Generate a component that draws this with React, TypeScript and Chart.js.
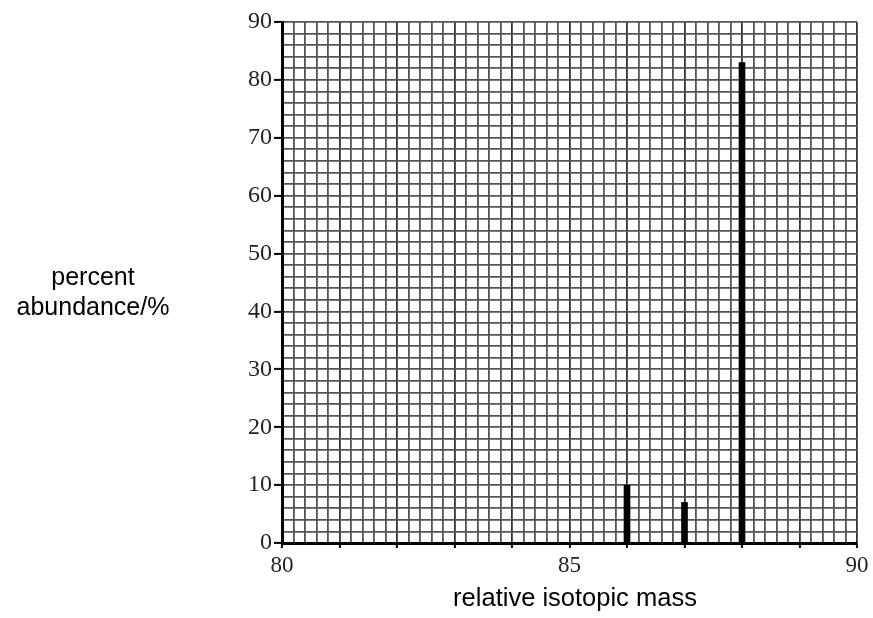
import React, { useEffect, useRef } from "react";
import { Chart, registerables } from "chart.js";

Chart.register(...registerables);

const masses: number[] = [86, 87, 88];
const abundances: number[] = [10, 7, 83];
const xLabelValues: number[] = [80, 85, 90];
const yLabelValues: number[] = [0, 10, 20, 30, 40, 50, 60, 70, 80, 90];
const xTitle = "relative isotopic mass";
const yTitleLines: string[] = ["percent", "abundance/%"];

const near = (a: number, b: number) => Math.abs(a - b) < 1e-6;
const isInt = (v: number) => near(v, Math.round(v));

const titlePlugin = {
  id: "axisTitles",
  afterDraw(chart: any) {
    const ctx = chart.ctx;
    ctx.save();
    ctx.fillStyle = "#000";
    ctx.font = "25.5px 'Liberation Sans', Arial, sans-serif";
    ctx.textAlign = "center";
    ctx.textBaseline = "alphabetic";
    ctx.fillText(xTitle, 575, 606);
    ctx.font = "25px 'Liberation Sans', Arial, sans-serif";
    yTitleLines.forEach((line, i) => {
      ctx.fillText(line, 93, 285 + i * 30);
    });
    ctx.restore();
  },
};

export default function App() {
  const canvasRef = useRef<HTMLCanvasElement | null>(null);

  useEffect(() => {
    document.body.style.margin = "0";
    const canvas = canvasRef.current;
    if (!canvas) return;
    const chart = new Chart(canvas, {
      type: "bar",
      data: {
        datasets: [
          {
            data: masses.map((m, i) => ({ x: m, y: abundances[i] })),
            backgroundColor: "#000",
            borderWidth: 0,
            barThickness: 6,
          },
        ],
      },
      options: {
        responsive: false,
        animation: false,
        events: [],
        layout: { padding: { top: 22, right: 16, left: 0, bottom: 0 } },
        plugins: {
          legend: { display: false },
          tooltip: { enabled: false },
        },
        scales: {
          x: {
            type: "linear",
            min: 80,
            max: 90,
            offset: false,
            grid: {
              offset: false,
              color: (c: any) => (isInt(c.tick.value) ? "#333" : "#555"),
              lineWidth: 1.8,
              tickLength: 5,
              tickColor: (c: any) => (isInt(c.tick.value) ? "#000" : "rgba(0,0,0,0)"),
              tickWidth: 2,
            },
            border: { display: true, color: "#000", width: 3 },
            ticks: {
              stepSize: 0.2,
              autoSkip: false,
              maxRotation: 0,
              padding: 4,
              color: "#222",
              font: { family: "'Liberation Serif', 'Times New Roman', serif", size: 23 },
              callback: (v: any) => {
                const n = Number(v);
                const hit = xLabelValues.find((l) => near(l, n));
                return hit !== undefined ? String(hit) : "";
              },
            },
            afterFit: (scale: any) => {
              scale.height = 75;
            },
          },
          y: {
            type: "linear",
            min: 0,
            max: 90,
            grid: {
              color: "#555",
              lineWidth: 1.8,
              tickLength: 8,
              tickColor: (c: any) =>
                yLabelValues.some((l) => near(l, c.tick.value)) ? "#000" : "rgba(0,0,0,0)",
              tickWidth: 2,
            },
            border: { display: true, color: "#000", width: 3 },
            ticks: {
              stepSize: 2,
              autoSkip: false,
              padding: 2,
              color: "#222",
              font: { family: "'Liberation Serif', 'Times New Roman', serif", size: 24 },
              callback: (v: any) => {
                const n = Number(v);
                const hit = yLabelValues.find((l) => near(l, n));
                return hit !== undefined ? String(hit) : "";
              },
            },
            afterFit: (scale: any) => {
              scale.width = 282;
            },
          },
        },
      },
      plugins: [titlePlugin],
    } as any);
    return () => chart.destroy();
  }, []);

  return (
    <div style={{ position: "relative", width: 873, height: 618, background: "#fff" }}>
      <canvas ref={canvasRef} width={873} height={618} />
    </div>
  );
}
